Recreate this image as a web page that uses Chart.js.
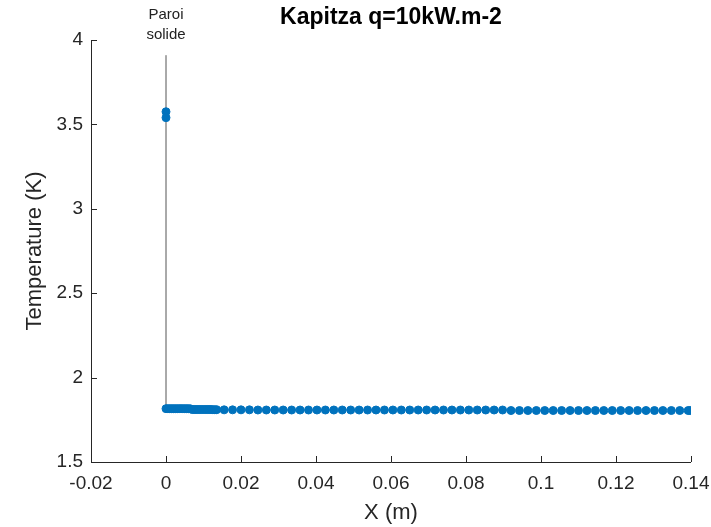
<!DOCTYPE html>
<html>
<head>
<meta charset="utf-8">
<script src="https://cdn.jsdelivr.net/npm/chart.js@4/dist/chart.umd.min.js"></script>
<style>
  html, body { margin: 0; padding: 0; background: #fff; }
  #wrap { width: 711px; height: 527px; }
</style>
</head>
<body>
<div id="wrap"><canvas id="chart"></canvas></div>
<script>
const chartTitle = 'Kapitza q=10kW.m-2';
const xLabel = 'X (m)';
const yLabel = 'Temperature (K)';
const wallLabel = ['Paroi', 'solide'];

const xTicks = [-0.02, 0, 0.02, 0.04, 0.06, 0.08, 0.1, 0.12, 0.14];
const yTicks = [1.5, 2, 2.5, 3, 3.5, 4];

// solid wall: the two hot points + the vertical marker
const wallX = [0, 0];
const wallT = [3.575, 3.54];
const wallLineY = [1.81, 3.91];

// liquid side
const liquidX = [
  0, 0.0005, 0.001, 0.0015, 0.002, 0.0025, 0.003, 0.0035, 0.004, 0.0045, 0.005, 0.0055, 0.006, 0.0065,
  0.007, 0.0075, 0.008, 0.0085, 0.009, 0.0095, 0.01, 0.0105, 0.011, 0.0115, 0.012, 0.0125, 0.013, 0.0135,
  0.0155, 0.01775, 0.02, 0.02225, 0.0245, 0.02675, 0.029, 0.03125, 0.0335, 0.03575,
  0.038, 0.04025, 0.0425, 0.04475, 0.047, 0.04925, 0.0515, 0.05375, 0.056, 0.05825,
  0.0605, 0.06275, 0.065, 0.06725, 0.0695, 0.07175, 0.074, 0.07625, 0.0785, 0.08075,
  0.083, 0.08525, 0.0875, 0.08975, 0.092, 0.09425, 0.0965, 0.09875, 0.101, 0.10325,
  0.1055, 0.10775, 0.11, 0.11225, 0.1145, 0.11675, 0.119, 0.12125, 0.1235, 0.12575,
  0.128, 0.13025, 0.1325, 0.13475, 0.137, 0.13925, 0.1398
];
const liquidT = [
  1.816, 1.816, 1.816, 1.816, 1.816, 1.816, 1.816, 1.816, 1.816, 1.816, 1.816, 1.816, 1.816, 1.815,
  1.811, 1.811, 1.811, 1.811, 1.811, 1.811, 1.811, 1.811, 1.811, 1.811, 1.811, 1.810, 1.810, 1.810,
  1.809, 1.809, 1.809, 1.809, 1.808, 1.808, 1.808, 1.808, 1.808, 1.808,
  1.808, 1.808, 1.808, 1.808, 1.808, 1.808, 1.808, 1.808, 1.808, 1.808,
  1.808, 1.808, 1.808, 1.808, 1.808, 1.808, 1.808, 1.808, 1.808, 1.808,
  1.808, 1.808, 1.808, 1.808, 1.805, 1.805, 1.805, 1.805, 1.805, 1.805,
  1.805, 1.805, 1.805, 1.805, 1.805, 1.805, 1.805, 1.805, 1.805, 1.805,
  1.805, 1.805, 1.805, 1.805, 1.805, 1.805, 1.805
];

const blue = '#0072BD';
const axisColor = '#262626';
const font = 'Liberation Sans, Arial, sans-serif';

function toPoints(xs, ys) {
  return xs.map((x, i) => ({ x: x, y: ys[i] }));
}

// MATLAB style: axis lines, inward ticks, title, wall annotation
const matlabLook = {
  id: 'matlabLook',
  afterDraw(chart) {
    const ctx = chart.ctx;
    const xs = chart.scales.x, ys = chart.scales.y;
    const a = chart.chartArea;
    ctx.save();
    ctx.strokeStyle = axisColor;
    ctx.lineWidth = 1;
    ctx.beginPath();
    ctx.moveTo(a.left + 0.5, a.top);
    ctx.lineTo(a.left + 0.5, a.bottom + 0.5);
    ctx.lineTo(a.right, a.bottom + 0.5);
    xTicks.forEach(v => {
      const px = Math.round(xs.getPixelForValue(v)) + 0.5;
      ctx.moveTo(px, a.bottom);
      ctx.lineTo(px, a.bottom - 6);
    });
    yTicks.forEach(v => {
      const py = Math.round(ys.getPixelForValue(v)) + 0.5;
      ctx.moveTo(a.left, py);
      ctx.lineTo(a.left + 6, py);
    });
    ctx.stroke();

    ctx.fillStyle = '#000';
    ctx.textAlign = 'center';
    ctx.textBaseline = 'middle';
    ctx.font = 'bold 23px ' + font;
    ctx.fillText(chartTitle, (a.left + a.right) / 2, 18);

    ctx.fillStyle = '#222';
    ctx.font = '15px ' + font;
    const wx = xs.getPixelForValue(0);
    ctx.fillText(wallLabel[0], wx, 15);
    ctx.fillText(wallLabel[1], wx, 35);
    ctx.restore();
  }
};

new Chart(document.getElementById('chart'), {
  type: 'scatter',
  data: {
    datasets: [
      {
        label: 'liquide',
        data: toPoints(liquidX, liquidT),
        backgroundColor: blue,
        borderColor: blue,
        pointRadius: 4,
        order: 0
      },
      {
        label: 'paroi',
        data: toPoints(wallX, wallT),
        backgroundColor: blue,
        borderColor: blue,
        pointRadius: 4,
        order: 1
      },
      {
        type: 'line',
        label: 'limite',
        data: toPoints([0, 0], wallLineY),
        borderColor: '#555',
        borderWidth: 1,
        pointRadius: 0,
        order: 2
      }
    ]
  },
  options: {
    responsive: true,
    maintainAspectRatio: false,
    animation: false,
    layout: { padding: { top: 40, right: 20, left: 0, bottom: 0 } },
    plugins: {
      legend: { display: false },
      tooltip: { enabled: false },
      title: { display: false }
    },
    scales: {
      x: {
        type: 'linear',
        min: -0.02,
        max: 0.14,
        afterFit(scale) {
          scale.height = 65;
          scale.paddingLeft = 0;
          scale.paddingRight = 0;
        },
        afterBuildTicks(scale) { scale.ticks = xTicks.map(v => ({ value: v })); },
        grid: { display: false, drawTicks: false },
        border: { display: false },
        ticks: {
          color: axisColor,
          padding: 10,
          maxRotation: 0,
          autoSkip: false,
          font: { family: font, size: 19 },
          callback: v => String(v)
        },
        title: {
          display: true,
          text: xLabel,
          color: axisColor,
          font: { family: font, size: 22 },
          padding: { top: 0, bottom: 1 }
        }
      },
      y: {
        type: 'linear',
        min: 1.5,
        max: 4,
        afterFit(scale) {
          scale.width = 91;
          scale.paddingTop = 0;
          scale.paddingBottom = 0;
        },
        afterBuildTicks(scale) { scale.ticks = yTicks.map(v => ({ value: v })); },
        grid: { display: false, drawTicks: false },
        border: { display: false },
        ticks: {
          color: axisColor,
          padding: 8,
          autoSkip: false,
          font: { family: font, size: 19 },
          callback: v => String(v)
        },
        title: {
          display: true,
          text: yLabel,
          color: axisColor,
          font: { family: font, size: 22 },
          padding: { top: 22, bottom: 0 }
        }
      }
    }
  },
  plugins: [matlabLook]
});
</script>
</body>
</html>
